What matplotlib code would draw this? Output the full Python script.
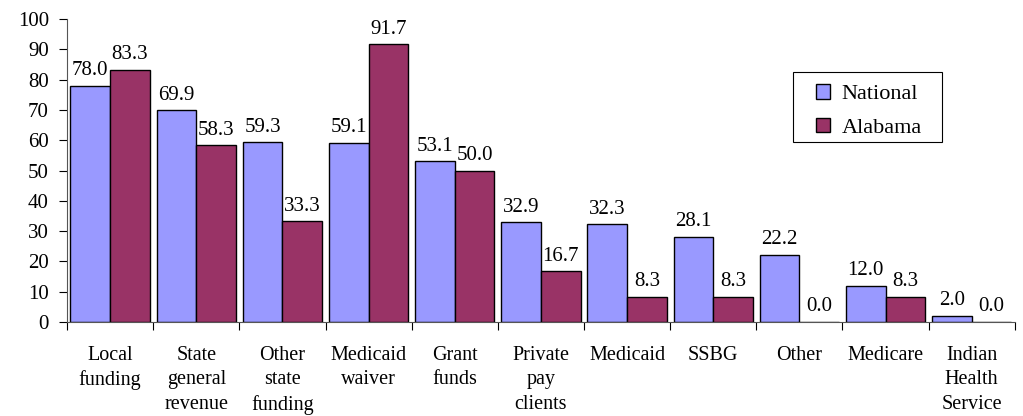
import matplotlib
matplotlib.use("Agg")
import matplotlib.pyplot as plt
from matplotlib.patches import Rectangle
import numpy as np

categories = ["Local\nfunding", "State\ngeneral\nrevenue", "Other\nstate\nfunding", "Medicaid\nwaiver",
              "Grant\nfunds", "Private\npay\nclients", "Medicaid", "SSBG", "Other", "Medicare",
              "Indian\nHealth\nService"]
national = [78.0, 69.9, 59.3, 59.1, 53.1, 32.9, 32.3, 28.1, 22.2, 12.0, 2.0]
alabama = [83.3, 58.3, 33.3, 91.7, 50.0, 16.7, 8.3, 8.3, 0.0, 8.3, 0.0]
series_names = ["National", "Alabama"]
colors = ["#9999FF", "#993366"]

plt.rcParams['font.family'] = ['Liberation Serif', 'DejaVu Serif']

fig = plt.figure(figsize=(10.23, 4.16), dpi=100)
ax = fig.add_axes([0.0655, 0.226, 0.9265, 0.728])

n = len(categories)
x = np.arange(n)
w = 0.46
b1 = ax.bar(x - w/2, national, w, color=colors[0], edgecolor="black", linewidth=1.0, label=series_names[0])
b2 = ax.bar(x + w/2, alabama, w, color=colors[1], edgecolor="black", linewidth=1.0, label=series_names[1])

for bars, vals in ((b1, national), (b2, alabama)):
    for r, v in zip(bars, vals):
        ax.annotate(f"{v:.1f}", (r.get_x() + r.get_width()/2, v), xytext=(0, 4),
                    textcoords="offset points", ha="center", va="bottom", fontsize=15)

ax.set_xlim(-0.5, n - 0.5)
ax.set_ylim(0, 100)
ax.set_yticks(range(0, 101, 10))
ax.tick_params(axis='y', direction='out', length=6, labelsize=15, pad=7)
ax.set_xticks(np.arange(-0.5, n, 1.0))
ax.set_xticklabels([])
ax.tick_params(axis='x', direction='out', length=6)
ax.set_xticks(x, minor=True)
ax.set_xticklabels(categories, minor=True, fontsize=14.5, linespacing=1.4, va="top")
ax.tick_params(axis='x', which='minor', length=0, pad=17)
for s in ("top", "right"):
    ax.spines[s].set_visible(False)
ax.spines['left'].set_color("#555555")
ax.spines['bottom'].set_color("#555555")

fig.patches.append(Rectangle((793/1023, 1 - 142/416), 149/1023, 70/416, transform=fig.transFigure,
                             facecolor="white", edgecolor="black", linewidth=0.8, zorder=5))
leg = fig.legend(handles=[b1, b2], labels=series_names, loc="upper left",
                 bbox_to_anchor=(816/1023, 1 - 84/416), fontsize=16, frameon=False,
                 handlelength=0.65, handleheight=0.65, labelspacing=0.6, borderpad=0,
                 borderaxespad=0, handletextpad=0.5)
leg.set_zorder(6)

fig.savefig("out.png", dpi=100)
